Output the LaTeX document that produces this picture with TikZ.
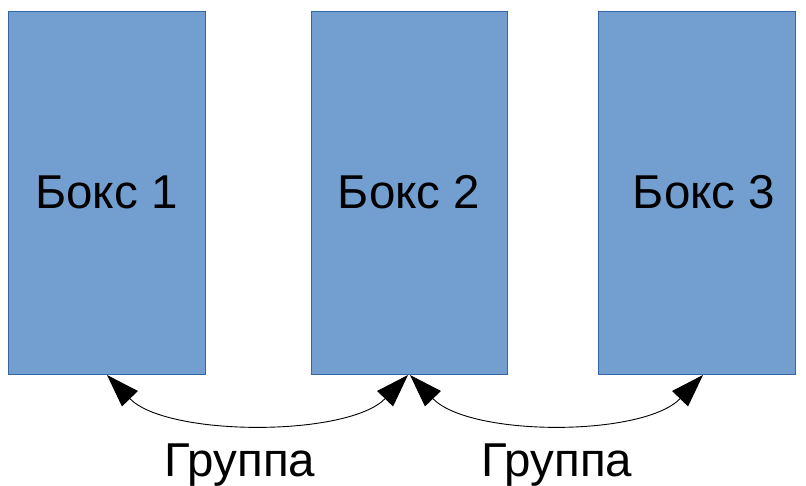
\documentclass[tikz,border=0pt]{standalone}
\usepackage{fontspec}
\setmainfont{Liberation Sans}
\usetikzlibrary{arrows.meta}
\definecolor{boxfill}{HTML}{729FCF}
\definecolor{boxline}{HTML}{3465A4}
\tikzset{
  blockbox/.style={draw=boxline, fill=boxfill, line width=0.8pt},
  label text/.style={font=\fontsize{47.5}{52}\selectfont, anchor=base, inner sep=0pt},
  link/.style={draw=black, line width=0.9pt,
    {Triangle[length=33pt,width=22pt]}-{Triangle[length=33pt,width=22pt]}}
}
\begin{document}
\begin{tikzpicture}[x=1pt,y=-1pt]
  \useasboundingbox (0,0) rectangle (806,486);
  % three boxes
  \draw[blockbox] (8,11) rectangle (205,374);
  \draw[blockbox] (311,11) rectangle (507,374);
  \draw[blockbox] (598,11) rectangle (795,374);
  \node[label text] (t1) at (106.5,209) {Бокс 1};
  \node[label text] (t2) at (409,209) {Бокс 2};
  \node[label text] (t3) at (704,209) {Бокс 3};
  % connection points under the boxes
  \coordinate (a1) at (107,375);
  \coordinate (a2) at (408,375);
  \coordinate (b1) at (410,375);
  \coordinate (b2) at (703,375);
  \draw[link] (a1) .. controls (167,437) and (348,437) .. (a2);
  \draw[link] (b1) .. controls (470,437) and (643,437) .. (b2);
  \node[label text] (g1) at (240,476) {Группа};
  \node[label text] (g2) at (557,476) {Группа};
\end{tikzpicture}
\end{document}
